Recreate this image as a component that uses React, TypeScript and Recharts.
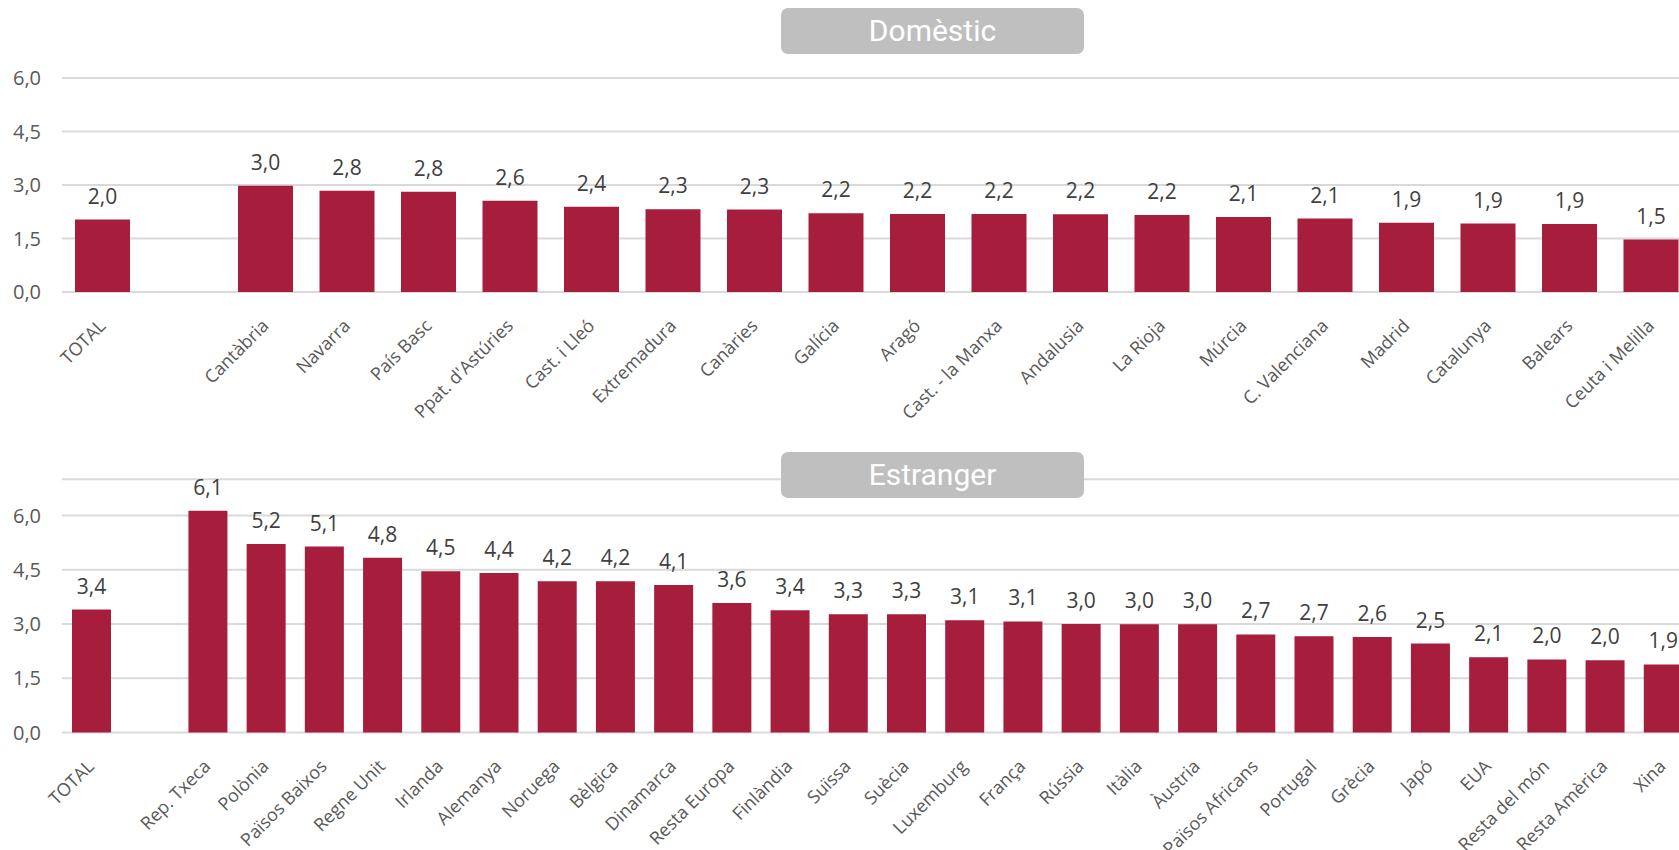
import React from 'react';
import { BarChart, Bar, XAxis, YAxis, CartesianGrid, LabelList } from 'recharts';

// dades: mesos d'estada mitjana per origen
const domesticCategories = [
  'TOTAL', '', 'Cantàbria', 'Navarra', 'País Basc', "Ppat. d'Astúries", 'Cast. i Lleó', 'Extremadura',
  'Canàries', 'Galícia', 'Aragó', 'Cast. - la Manxa', 'Andalusia', 'La Rioja', 'Múrcia',
  'C. Valenciana', 'Madrid', 'Catalunya', 'Balears', 'Ceuta i Melilla',
];
const domesticValues = [
  2.03, null, 2.98, 2.84, 2.81, 2.56, 2.39, 2.32, 2.31, 2.21, 2.19, 2.19, 2.18, 2.16, 2.1, 2.06, 1.94,
  1.92, 1.91, 1.47,
];

const foreignCategories = [
  'TOTAL', '', 'Rep. Txeca', 'Polònia', 'Països Baixos', 'Regne Unit', 'Irlanda', 'Alemanya', 'Noruega',
  'Bèlgica', 'Dinamarca', 'Resta Europa', 'Finlàndia', 'Suïssa', 'Suècia', 'Luxemburg', 'França', 'Rússia',
  'Itàlia', 'Àustria', 'Països Africans', 'Portugal', 'Grècia', 'Japó', 'EUA', 'Resta del món',
  'Resta Amèrica', 'Xina',
];
const foreignValues = [
  3.4, null, 6.13, 5.21, 5.14, 4.83, 4.46, 4.41, 4.18, 4.18, 4.08, 3.58, 3.38, 3.27, 3.27, 3.1, 3.07, 3.0,
  2.99, 2.99, 2.71, 2.66, 2.64, 2.46, 2.08, 2.02, 2.0, 1.88,
];

const yTicks = [0, 1.5, 3, 4.5, 6];

const BAR = '#A61E3C';
const FONT = '"Open Sans", sans-serif';

const fmt = (v: unknown) => (v == null || v === '' ? '' : Number(v).toFixed(1).replace('.', ','));

function AngledTick({ x, y, payload }: any) {
  return (
    <g transform={`translate(${x + 4},${y + 27})`}>
      <text x={0} y={0} textAnchor="end" transform="rotate(-45)" fill="#595959" fontSize={18} fontFamily={FONT}>
        {payload.value}
      </text>
    </g>
  );
}

function TitleBox({ text, top }: { text: string; top: number }) {
  return (
    <div
      style={{
        position: 'absolute',
        left: 781,
        top,
        width: 303,
        height: 46,
        background: '#BFBFBF',
        borderRadius: 7,
        color: '#fff',
        fontFamily: 'Roboto, sans-serif',
        fontSize: 30,
        lineHeight: '46px',
        textAlign: 'center',
      }}
    >
      {text}
    </div>
  );
}

function Panel({
  categories,
  values,
  top,
  height,
  marginTop,
  plotHeight,
  yMax,
  barSize,
}: {
  categories: string[];
  values: (number | null)[];
  top: number;
  height: number;
  marginTop: number;
  plotHeight: number;
  yMax: number;
  barSize: number;
}) {
  const data = categories.map((name, i) => ({ name: name || ' ', value: values[i] }));
  return (
    <div style={{ position: 'absolute', left: 0, top }}>
      <BarChart
        width={1700}
        height={height}
        data={data}
        margin={{ top: marginTop, right: 8, left: 0, bottom: 0 }}
      >
        <CartesianGrid vertical={false} stroke="#D9D9D9" strokeWidth={2} />
        <XAxis
          dataKey="name"
          interval={0}
          axisLine={false}
          tickLine={false}
          height={height - marginTop - plotHeight}
          tick={<AngledTick />}
        />
        <YAxis
          domain={[0, yMax]}
          ticks={yTicks}
          width={62}
          axisLine={false}
          tickLine={false}
          tickMargin={15}
          tickFormatter={fmt}
          tick={{ fill: '#595959', fontSize: 20, fontFamily: FONT }}
        />
        <Bar dataKey="value" fill={BAR} barSize={barSize} isAnimationActive={false}>
          <LabelList
            dataKey="value"
            position="top"
            offset={16}
            formatter={fmt}
            fill="#404040"
            fontSize={21}
            fontFamily={FONT}
          />
        </Bar>
      </BarChart>
    </div>
  );
}

export default function App() {
  return (
    <div
      style={{
        position: 'fixed',
        left: 0,
        top: 0,
        width: 1679,
        height: 850,
        overflow: 'hidden',
        background: '#fff',
      }}
    >
      <Panel
        categories={domesticCategories}
        values={domesticValues}
        top={0}
        height={440}
        marginTop={78}
        plotHeight={214}
        yMax={6}
        barSize={55}
      />
      <Panel
        categories={foreignCategories}
        values={foreignValues}
        top={440}
        height={410}
        marginTop={39.3}
        plotHeight={253.2}
        yMax={7}
        barSize={39}
      />
      <TitleBox text="Domèstic" top={8} />
      <TitleBox text="Estranger" top={452} />
    </div>
  );
}
